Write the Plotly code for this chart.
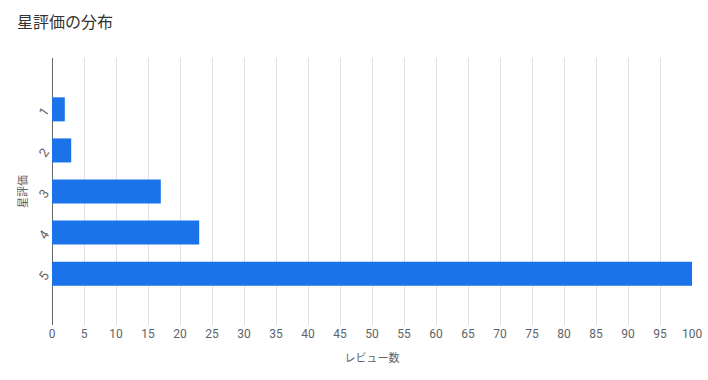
import plotly.graph_objects as go

categories = ["1", "2", "3", "4", "5"]
values = [2, 3, 17, 23, 100]
x_ticks = list(range(0, 101, 5))

fig = go.Figure(go.Bar(
    x=values, y=categories, orientation="h",
    marker=dict(color="#1a73e8", line=dict(width=0)),
    width=0.585, hoverinfo="x+y",
))

font_family = "Roboto, 'Noto Sans CJK JP', sans-serif"
fig.update_layout(
    width=708, height=380,
    margin=dict(l=52, r=16, t=58, b=55, autoexpand=False),
    paper_bgcolor="white", plot_bgcolor="white",
    font=dict(family=font_family, color="#5f6368", size=12),
    title=dict(text="星評価の分布", x=0.024, xanchor="left", y=0.942, yanchor="middle",
               font=dict(size=16, color="#333333", family=font_family)),
    showlegend=False,
    xaxis=dict(
        range=[0, 100], tickvals=x_ticks, ticktext=[str(v) for v in x_ticks],
        showgrid=True, gridcolor="#e0e0e0", gridwidth=1,
        zeroline=True, zerolinecolor="#666666", zerolinewidth=1,
        showline=False, ticks="", tickfont=dict(size=12, color="#5f6368"),
        title=dict(text="レビュー数", font=dict(size=11, color="#5f6368"), standoff=14),
        fixedrange=True, automargin=False,
    ),
    yaxis=dict(
        type="category", categoryorder="array", categoryarray=categories,
        range=[5.25, -1.25], showgrid=False, zeroline=False, showline=False,
        ticks="outside", ticklen=4, tickcolor="rgba(0,0,0,0)",
        tickangle=-55, tickfont=dict(size=13, color="#5f6368"),
        title=dict(text="星評価", font=dict(size=11, color="#5f6368"), standoff=5),
        fixedrange=True, automargin=False,
    ),
)

fig.write_html("out.html")
